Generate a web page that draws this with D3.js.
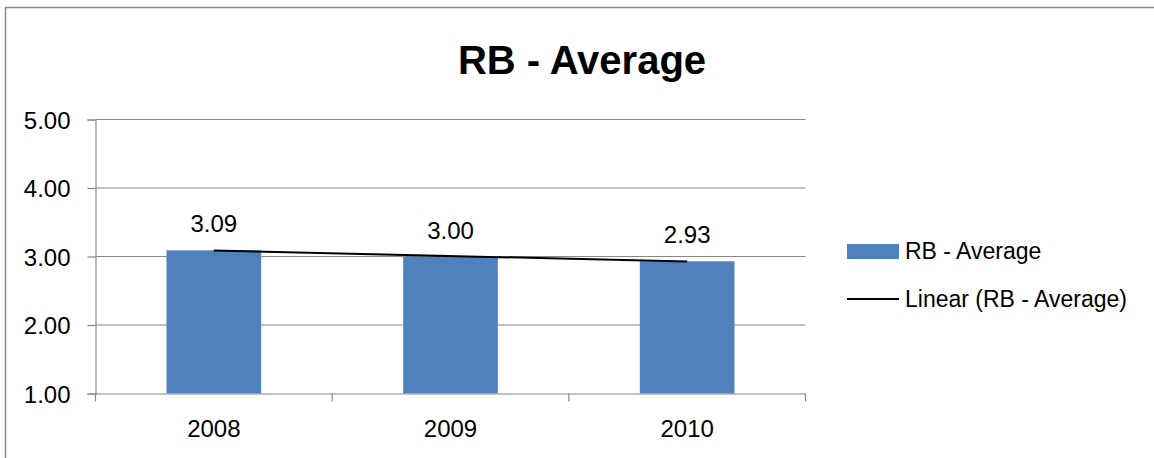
<!DOCTYPE html>
<html>
<head>
<meta charset="utf-8">
<script src="https://cdn.jsdelivr.net/npm/d3@7"></script>
<style>
  body { margin: 0; background: #fff; }
  text { font-family: "Liberation Sans", Arial, sans-serif; fill: #000; }
</style>
</head>
<body>
<div id="chart"></div>
<script>
var years = ["2008", "2009", "2010"];
var averages = [3.09, 3.00, 2.93];
var yTicks = [1, 2, 3, 4, 5];
var seriesName = "RB - Average";
var trendName = "Linear (RB - Average)";

function drawChart() {
  var svg = d3.select("#chart").append("svg")
      .attr("width", 1154).attr("height", 458);

  // chart area frame (cropped at right and bottom)
  svg.append("rect")
      .attr("x", 5.5).attr("y", 7.5)
      .attr("width", 1200).attr("height", 500)
      .attr("fill", "none").attr("stroke", "#8a8a8a").attr("stroke-width", 1.5);

  svg.append("text")
      .attr("x", 582).attr("y", 74)
      .attr("text-anchor", "middle")
      .style("font-size", "40px").style("font-weight", "bold")
      .text(seriesName);

  var pLeft = 95.5, pRight = 805.5, pTop = 119.5, pBottom = 393.5;

  var x = d3.scaleBand().domain(years).range([pLeft, pRight])
      .paddingInner(0.6).paddingOuter(0.3);
  var y = d3.scaleLinear().domain([1, 5]).range([pBottom, pTop]);

  // gridlines
  svg.append("g").selectAll("line").data(yTicks.slice(1)).join("line")
      .attr("x1", pLeft).attr("x2", pRight)
      .attr("y1", d => y(d)).attr("y2", d => y(d))
      .attr("stroke", "#888").attr("stroke-width", 1.2);

  // y axis
  var yAxis = svg.append("g").attr("transform", "translate(" + pLeft + ",0)")
      .call(d3.axisLeft(y).tickValues(yTicks).tickFormat(d3.format(".2f")).tickSize(8).tickPadding(17));
  yAxis.select(".domain").attr("stroke", "#888").attr("stroke-width", 1.2);
  yAxis.selectAll(".tick line").attr("stroke", "#888").attr("stroke-width", 1.2);
  yAxis.selectAll("text").style("font-size", "24px").attr("dy", "0.36em");

  // bars
  svg.append("g").selectAll("rect").data(years).join("rect")
      .attr("x", d => x(d))
      .attr("width", x.bandwidth())
      .attr("y", (d, i) => y(averages[i]))
      .attr("height", (d, i) => y(1) - y(averages[i]))
      .attr("fill", "#4f81bd");

  // x axis
  var xAxis = svg.append("g").attr("transform", "translate(0," + pBottom + ")")
      .call(d3.axisBottom(x).tickSize(0).tickPadding(26));
  xAxis.select(".domain").attr("stroke", "#888").attr("stroke-width", 1.2);
  xAxis.selectAll("text").style("font-size", "24px").attr("dy", "0.71em");
  var step = x.step();
  var bounds = d3.range(years.length + 1).map(i => pLeft + i * step);
  xAxis.selectAll(".bound").data(bounds).join("line").attr("class", "bound")
      .attr("x1", d => d).attr("x2", d => d).attr("y1", 0).attr("y2", 8)
      .attr("stroke", "#888").attr("stroke-width", 1.2);

  // data labels
  svg.append("g").selectAll("text").data(years).join("text")
      .attr("x", d => x(d) + x.bandwidth() / 2)
      .attr("y", (d, i) => y(averages[i]) - 18)
      .attr("text-anchor", "middle")
      .style("font-size", "24px")
      .text((d, i) => averages[i].toFixed(2));

  // linear trendline (least squares)
  var xs = years.map((d, i) => i + 1);
  var mx = d3.mean(xs), my = d3.mean(averages);
  var slope = d3.sum(xs, (v, i) => (v - mx) * (averages[i] - my)) / d3.sum(xs, v => (v - mx) * (v - mx));
  var icpt = my - slope * mx;
  var ends = [years[0], years[years.length - 1]].map(d => {
    var k = years.indexOf(d) + 1;
    return [x(d) + x.bandwidth() / 2, y(icpt + slope * k)];
  });
  svg.append("path")
      .attr("d", d3.line()(ends))
      .attr("stroke", "#000").attr("stroke-width", 2).attr("fill", "none");

  // legend
  var lg = svg.append("g");
  lg.append("rect").attr("x", 847).attr("y", 244).attr("width", 52).attr("height", 15).attr("fill", "#4f81bd");
  lg.append("text").attr("x", 905).attr("y", 259).style("font-size", "23px").text(seriesName);
  lg.append("line").attr("x1", 847).attr("x2", 899).attr("y1", 299).attr("y2", 299)
      .attr("stroke", "#000").attr("stroke-width", 2);
  lg.append("text").attr("x", 905).attr("y", 307).style("font-size", "23px").text(trendName);
}

drawChart();
</script>
</body>
</html>
